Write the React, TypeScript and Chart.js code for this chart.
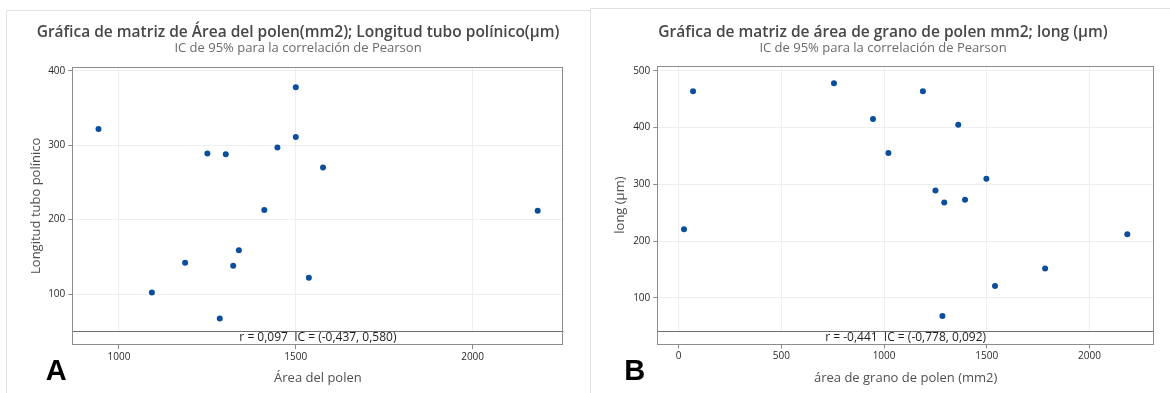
import React, { useEffect, useRef } from "react";
import { Chart, registerables } from "chart.js";
Chart.register(...registerables);

const FONT = '"Open Sans", "Noto Sans", sans-serif';

// Panel A: Área del polen (mm2) vs Longitud tubo polínico (µm)
const areaPolenA = [942, 1250, 1302, 1448, 1500, 1577, 1411, 2184, 1339, 1187, 1323, 1093, 1285, 1537, 1500];
const longTuboA = [322, 289, 288, 297, 311, 270, 213, 212, 159, 142, 138, 102, 67, 122, 378];
const xTicksA = [1000, 1500, 2000];
const yTicksA = [100, 200, 300, 400];

// Panel B: área de grano de polen (mm2) vs long (µm)
const areaGranoB = [70, 756, 946, 1189, 1361, 1021, 1498, 1250, 1293, 1394, 26, 2184, 1784, 1540, 1284];
const longB = [464, 478, 415, 464, 405, 355, 310, 289, 268, 273, 221, 212, 152, 121, 68];
const xTicksB = [0, 500, 1000, 1500, 2000];
const yTicksB = [100, 200, 300, 400, 500];

type Panel = {
  letter: string;
  left: number;
  width: number;
  title: string;
  subtitle: string;
  xTitle: string;
  yTitle: string;
  stats: string;
  xs: number[];
  ys: number[];
  xTicks: number[];
  yTicks: number[];
  xMin: number;
  xMax: number;
  yMin: number;
  yMax: number;
  area: { left: number; right: number; top: number; bottom: number };
  titleX: number;
  yTitlePad: number;
  letterX: number;
};

const panels: Panel[] = [
  {
    letter: "A",
    left: 0,
    width: 590,
    title: "Gráfica de matriz de Área del polen(mm2); Longitud tubo polínico(µm)",
    subtitle: "IC de 95% para la correlación de Pearson",
    xTitle: "Área del polen",
    yTitle: "Longitud tubo polínico",
    stats: "r = 0,097  IC = (-0,437, 0,580)",
    xs: areaPolenA,
    ys: longTuboA,
    xTicks: xTicksA,
    yTicks: yTicksA,
    xMin: 868,
    xMax: 2257,
    yMin: 31.5,
    yMax: 405.6,
    area: { left: 72.3, right: 563.5, top: 66.7, bottom: 345 },
    titleX: 298,
    yTitlePad: 28.7,
    letterX: 45.7,
  },
  {
    letter: "B",
    left: 590,
    width: 580,
    title: "Gráfica de matriz de área de grano de polen mm2; long (µm)",
    subtitle: "IC de 95% para la correlación de Pearson",
    xTitle: "área de grano de polen (mm2)",
    yTitle: "long (µm)",
    stats: "r = -0,441  IC = (-0,778, 0,092)",
    xs: areaGranoB,
    ys: longB,
    xTicks: xTicksB,
    yTicks: yTicksB,
    xMin: -104,
    xMax: 2314,
    yMin: 18,
    yMax: 508.8,
    area: { left: 67.3, right: 564, top: 65.7, bottom: 344.5 },
    titleX: 293,
    yTitlePad: 22,
    letterX: 34.3,
  },
];

const H = 393;

function PanelChart({ p }: { p: Panel }) {
  const ref = useRef<HTMLCanvasElement>(null);
  useEffect(() => {
    const canvas = ref.current!;
    const decor = {
      id: "minitabPanel",
      afterDraw(chart: any) {
        const { ctx, chartArea: ca } = chart;
        ctx.save();
        const sepY = Math.round(ca.bottom - 14);
        ctx.fillStyle = "#ffffff";
        ctx.fillRect(ca.left, sepY, ca.right - ca.left, ca.bottom - sepY);
        ctx.strokeStyle = "#6f6f6f";
        ctx.lineWidth = 1;
        ctx.beginPath();
        ctx.moveTo(ca.left, sepY + 0.5);
        ctx.lineTo(ca.right, sepY + 0.5);
        ctx.stroke();
        ctx.strokeStyle = "#8c8c8c";
        ctx.strokeRect(
          Math.round(ca.left) + 0.5,
          Math.round(ca.top) + 0.5,
          Math.round(ca.right - ca.left) - 1,
          Math.round(ca.bottom - ca.top) - 1
        );
        ctx.fillStyle = "#1e1e1e";
        ctx.font = `12px ${FONT}`;
        ctx.textAlign = "center";
        ctx.textBaseline = "middle";
        ctx.fillText(p.stats, (ca.left + ca.right) / 2, (sepY + ca.bottom) / 2);

        ctx.textBaseline = "alphabetic";
        ctx.fillStyle = "#474747";
        ctx.font = `600 15.5px ${FONT}`;
        ctx.fillText(p.title, p.titleX, 37);
        ctx.fillStyle = "#6a6a6a";
        ctx.font = `13px ${FONT}`;
        ctx.fillText(p.subtitle, p.titleX, 52);

        ctx.fillStyle = "#000000";
        ctx.textAlign = "left";
        ctx.font = `bold 29px "Liberation Sans", Arial, sans-serif`;
        ctx.fillText(p.letter, p.letterX, 380);
        ctx.restore();
      },
    };

    const tickFont = { family: FONT, size: 10 };
    const chart = new Chart(canvas, {
      type: "scatter",
      data: {
        datasets: [
          {
            data: p.xs.map((x, i) => ({ x, y: p.ys[i] })),
            backgroundColor: "#0b4f9c",
            borderColor: "#0b4f9c",
            pointRadius: 3,
            pointHoverRadius: 3,
            borderWidth: 0,
          },
        ],
      },
      options: {
        animation: false,
        responsive: false,
        maintainAspectRatio: false,
        events: [],
        layout: {
          padding: { left: 0, top: p.area.top, right: p.width - p.area.right, bottom: 0 },
        },
        plugins: {
          legend: { display: false },
          tooltip: { enabled: false },
          title: { display: false },
        },
        scales: {
          x: {
            type: "linear",
            position: "bottom",
            min: p.xMin,
            max: p.xMax,
            afterFit: (s: any) => {
              s.height = H - p.area.bottom;
            },
            afterBuildTicks: (s: any) => {
              s.ticks = p.xTicks.map((v) => ({ value: v }));
            },
            ticks: {
              callback: (v: any) => String(v),
              font: tickFont,
              color: "#2a2a2a",
              padding: 2,
              maxRotation: 0,
              autoSkip: false,
            },
            grid: { color: "#eeeeee", tickColor: "#8a8a8a", tickLength: 4, lineWidth: 1 },
            border: { display: false },
            title: {
              display: true,
              text: p.xTitle,
              font: { family: FONT, size: 13 },
              color: "#505050",
              padding: { top: 0, bottom: 7 },
            },
          },
          y: {
            type: "linear",
            position: "left",
            min: p.yMin,
            max: p.yMax,
            afterFit: (s: any) => {
              s.width = p.area.left;
            },
            afterBuildTicks: (s: any) => {
              s.ticks = p.yTicks.map((v) => ({ value: v }));
            },
            ticks: {
              callback: (v: any) => String(v),
              font: tickFont,
              color: "#2a2a2a",
              padding: 3,
              autoSkip: false,
            },
            grid: { color: "#eeeeee", tickColor: "#8a8a8a", tickLength: 4, lineWidth: 1 },
            border: { display: false },
            title: {
              display: true,
              text: p.yTitle,
              font: { family: FONT, size: 13 },
              color: "#505050",
              padding: { top: p.yTitlePad, bottom: 0 },
            },
          },
        },
      },
      plugins: [decor],
    } as any);
    return () => chart.destroy();
  }, [p]);

  return (
    <canvas
      ref={ref}
      width={p.width}
      height={H}
      style={{ position: "absolute", left: p.left, top: 0, width: p.width, height: H, display: "block" }}
    />
  );
}

export default function App() {
  return (
    <div
      style={{
        position: "absolute",
        left: 0,
        top: 0,
        width: 1170,
        height: H,
        background: "#ffffff",
        overflow: "hidden",
      }}
    >
      <div
        style={{
          position: "absolute",
          left: 6,
          top: 10,
          width: 585,
          height: 420,
          border: "1px solid #e2e2e2",
          boxSizing: "border-box",
        }}
      />
      <div
        style={{
          position: "absolute",
          left: 590,
          top: 8,
          width: 600,
          height: 420,
          border: "1px solid #e2e2e2",
          boxSizing: "border-box",
        }}
      />
      {panels.map((p) => (
        <PanelChart key={p.letter} p={p} />
      ))}
    </div>
  );
}
